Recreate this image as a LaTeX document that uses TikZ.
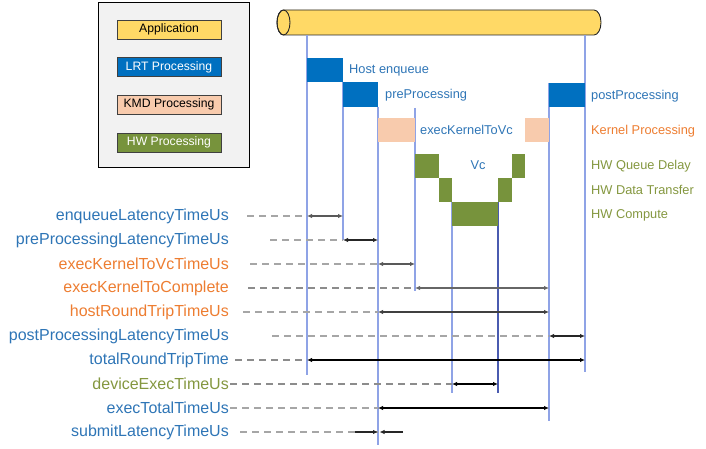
\documentclass[tikz,border=0pt]{standalone}
\usepackage{fontspec}
\setmainfont{Liberation Sans}
\usepackage{tikz}
\usetikzlibrary{arrows.meta,positioning}
\definecolor{appYellow}{HTML}{FFD966}
\definecolor{lrtBlue}{HTML}{0070C0}
\definecolor{kmdPeach}{HTML}{F8CBAD}
\definecolor{hwGreen}{HTML}{77933C}
\definecolor{legendGray}{HTML}{F2F2F2}
\definecolor{lifeBlue}{HTML}{8FA3E6}
\definecolor{lifeDark}{HTML}{4A5BB0}
\definecolor{txtBlue}{HTML}{2E75B6}
\definecolor{txtOrange}{HTML}{ED7D31}
\definecolor{txtOlive}{HTML}{84973F}
\definecolor{guideGray}{HTML}{A6A6A6}

\begin{document}
\begin{tikzpicture}[x=1pt,y=-1pt]
    \tikzset{
      life/.style={draw=lifeBlue, line width=1.3pt},
      legbox/.style={draw=black!75, line width=0.6pt, minimum width=104pt, minimum height=19pt, inner sep=0pt, font=\fontsize{12.2}{14}\selectfont},
      mlab/.style={font=\fontsize{16}{18}\selectfont, anchor=east, inner sep=0pt},
      blab/.style={font=\fontsize{12.8}{15}\selectfont, anchor=base west, inner sep=0pt},
      guide/.style={draw=guideGray, line width=1.1pt, dash pattern=on 7pt off 5pt},
      meas/.style={draw=black!85, line width=1.1pt, {Latex[length=5pt,width=4.5pt]}-{Latex[length=5pt,width=4.5pt]}},
      hit/.style={draw=black!85, line width=1.1pt, -{Latex[length=5pt,width=4.5pt]}}
    }
    \useasboundingbox (0,0) rectangle (706,449);

    % Legend
    \node[draw=black, line width=1.7pt, fill=legendGray, minimum width=151pt, minimum height=165pt] (legend) at (174,85) {};
    \node[legbox, fill=appYellow] (legApp) at (169,29.5) {Application};
    \node[legbox, fill=lrtBlue, text=white, below=18pt of legApp] (legLrt) {LRT Processing};
    \node[legbox, fill=kmdPeach, below=18pt of legLrt] (legKmd) {KMD Processing};
    \node[legbox, fill=hwGreen, text=white, below=18.5pt of legKmd] (legHw) {HW Processing};

    % Application (cylinder)
    \filldraw[fill=appYellow, draw=black!85, line width=0.9pt]
      (283.5,10) -- (594,10) arc[start angle=90, end angle=-90, x radius=7pt, y radius=12.5pt]
      -- (283.5,35) arc[start angle=270, end angle=90, x radius=6.5pt, y radius=12.5pt] -- cycle;
    \draw[draw=black!85, line width=0.9pt] (283.5,22.5) ellipse[x radius=6.5pt, y radius=12.5pt];

    % Lifelines
    \coordinate (l1) at (307,35);
    \coordinate (l2) at (343,82);
    \coordinate (l3) at (378,107);
    \coordinate (l4) at (415,108);
    \coordinate (l5) at (452,202);
    \coordinate (l6) at (498,202);
    \coordinate (l7) at (549,83);
    \coordinate (l8) at (585,35);
    \draw[life] (l1) -- ++(0,340);
    \draw[life] (l2) -- ++(0,158);
    \draw[life] (l3) -- ++(0,338);
    \draw[life] (l4) -- ++(0,183);
    \draw[life] (l5) -- ++(0,191);
    \draw[life, draw=lifeDark] (l6) -- ++(0,191);
    \draw[life] (l7) -- ++(0,338);
    \draw[life] (l8) -- ++(0,337);

    % LRT blocks
    \fill[lrtBlue] (307,58) rectangle (343,82);
    \fill[lrtBlue] (343,82) rectangle (378,107);
    \fill[lrtBlue] (549,83) rectangle (585,107);
    \node[blab, text=txtBlue] (hostEnq) at (349,74) {Host enqueue};
    \node[blab, text=txtBlue] (preProc) at (385,99) {preProcessing};
    \node[blab, text=txtBlue] (postProc) at (591,100) {postProcessing};

    % KMD blocks
    \fill[kmdPeach] (378,118) rectangle (415,142);
    \fill[kmdPeach] (525,118) rectangle (549,142);
    \node[blab, text=txtBlue] (toVc) at (420,135) {execKernelToVc};
    \node[blab, text=txtOrange] (kernProc) at (591,135) {Kernel Processing};

    % HW blocks
    \fill[hwGreen] (415,154) rectangle (439,178);
    \fill[hwGreen] (439,178) rectangle (452,202);
    \fill[hwGreen] (452,202) rectangle (498,226);
    \fill[hwGreen] (498,178) rectangle (512,202);
    \fill[hwGreen] (512,154) rectangle (525,178);
    \node[blab, anchor=base, text=txtBlue] (vc) at (478,170) {Vc};
    \node[blab, text=txtOlive] (hwQueue) at (591,170) {HW Queue Delay};
    \node[blab, text=txtOlive] (hwData) at (591,194) {HW Data Transfer};
    \node[blab, text=txtOlive] (hwComp) at (591,218) {HW Compute};

    % enqueueLatencyTimeUs
    \node[mlab, text=txtBlue] (enq) at (229,216) {enqueueLatencyTimeUs};
    \draw[guide] ([xshift=18pt]enq.east) -- (l1 |- enq.east);
    \draw[meas, draw=black!65] (l1 |- enq.east) -- (l2 |- enq.east);

    % preProcessingLatencyTimeUs
    \node[mlab, text=txtBlue] (pre) at (229,240) {preProcessingLatencyTimeUs};
    \draw[guide] ([xshift=41pt]pre.east) -- (l2 |- pre.east);
    \draw[meas] (l2 |- pre.east) -- (l3 |- pre.east);

    % execKernelToVcTimeUs
    \node[mlab, text=txtOrange] (kvc) at (229,264) {execKernelToVcTimeUs};
    \draw[guide] ([xshift=21pt]kvc.east) -- (l3 |- kvc.east);
    \draw[meas, draw=black!65] (l3 |- kvc.east) -- (l4 |- kvc.east);

    % execKernelToComplete
    \node[mlab, text=txtOrange] (kcomp) at (229,288) {execKernelToComplete};
    \draw[guide, draw=black!45] ([xshift=19pt]kcomp.east) -- (l4 |- kcomp.east);
    \draw[meas, draw=black!60] (l4 |- kcomp.east) -- (l7 |- kcomp.east);

    % hostRoundTripTimeUs
    \node[mlab, text=txtOrange] (hrt) at (229,312) {hostRoundTripTimeUs};
    \draw[guide] ([xshift=14pt]hrt.east) -- (l3 |- hrt.east);
    \draw[meas, draw=black!75] (l3 |- hrt.east) -- (l7 |- hrt.east);

    % postProcessingLatencyTimeUs
    \node[mlab, text=txtBlue] (post) at (229,336) {postProcessingLatencyTimeUs};
    \draw[guide] ([xshift=43pt]post.east) -- (l7 |- post.east);
    \draw[meas] (l7 |- post.east) -- (l8 |- post.east);

    % totalRoundTripTime
    \node[mlab, text=txtBlue] (trt) at (229,360) {totalRoundTripTime};
    \draw[guide, draw=black!45] ([xshift=6pt]trt.east) -- (l1 |- trt.east);
    \draw[meas, draw=black] (l1 |- trt.east) -- (l8 |- trt.east);

    % deviceExecTimeUs
    \node[mlab, text=txtOlive] (dev) at (229,384) {deviceExecTimeUs};
    \draw[guide, draw=black!45] ([xshift=1pt]dev.east) -- (l5 |- dev.east);
    \draw[meas, draw=black] (l5 |- dev.east) -- (l6 |- dev.east);

    % execTotalTimeUs
    \node[mlab, text=txtBlue] (etot) at (229,408) {execTotalTimeUs};
    \draw[guide] ([xshift=1pt]etot.east) -- (l3 |- etot.east);
    \draw[meas, draw=black] (l3 |- etot.east) -- (l7 |- etot.east);

    % submitLatencyTimeUs
    \node[mlab, text=txtBlue] (sub) at (229,432) {submitLatencyTimeUs};
    \coordinate (subHit) at (l3 |- sub.east);
    \draw[guide] ([xshift=11pt]sub.east) -- (subHit);
    \draw[hit] ([xshift=-23pt]subHit) -- (subHit);
    \draw[hit] ([xshift=25pt]subHit) -- ([xshift=1.5pt]subHit);
\end{tikzpicture}
\end{document}
